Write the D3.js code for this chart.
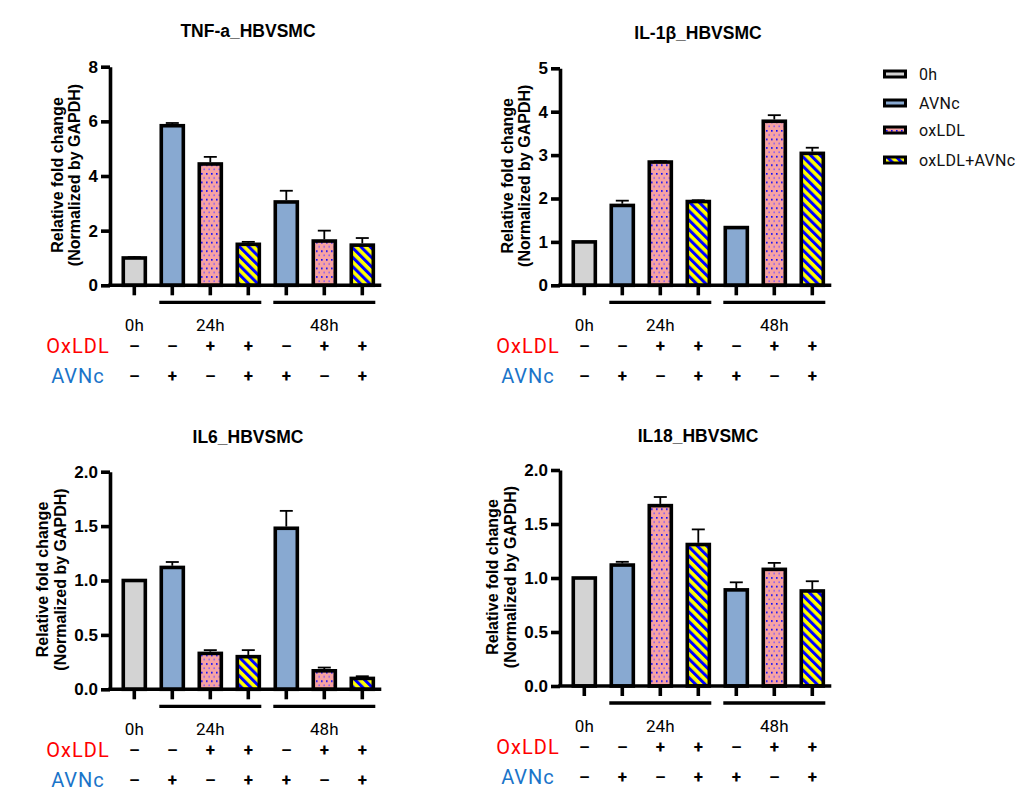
<!DOCTYPE html>
<html>
<head>
<meta charset="utf-8">
<script src="https://cdn.jsdelivr.net/npm/d3@7"></script>
<style>
  html, body { margin: 0; padding: 0; background: #fff; }
  svg { display: block; }
</style>
</head>
<body>
<svg id="chart" width="1027" height="805"></svg>
<script>
// ---------- DATA ----------
const groups = ["0h", "AVNc 24h", "oxLDL 24h", "oxLDL+AVNc 24h", "AVNc 48h", "oxLDL 48h", "oxLDL+AVNc 48h"];
const treatments = ["0h", "AVNc", "oxLDL", "oxLDL+AVNc", "AVNc", "oxLDL", "oxLDL+AVNc"];
const legendLabels = ["0h", "AVNc", "oxLDL", "oxLDL+AVNc"];
const oxldlSigns = ["–", "–", "+", "+", "–", "+", "+"];
const avncSigns  = ["–", "+", "–", "+", "+", "–", "+"];
const timeLabels = ["0h", "24h", "48h"];
const timeAt = [0, 2, 5];

const tnfMean  = [1.0, 5.84, 4.44, 1.50, 3.05, 1.62, 1.47];
const tnfSem   = [0.03, 0.10, 0.26, 0.09, 0.41, 0.38, 0.26];
const il1bMean = [1.0, 1.84, 2.84, 1.93, 1.33, 3.78, 3.04];
const il1bSem  = [0.0, 0.11, 0.02, 0.03, 0.0, 0.14, 0.13];
const il6Mean  = [1.0, 1.12, 0.33, 0.30, 1.48, 0.17, 0.10];
const il6Sem   = [0.0, 0.05, 0.03, 0.06, 0.16, 0.03, 0.02];
const il18Mean = [1.0, 1.12, 1.67, 1.31, 0.89, 1.08, 0.88];
const il18Sem  = [0.0, 0.03, 0.08, 0.14, 0.07, 0.06, 0.09];

const tnfTicks  = [0, 2, 4, 6, 8];
const il1bTicks = [0, 1, 2, 3, 4, 5];
const il6Ticks  = [0, 0.5, 1.0, 1.5, 2.0];
const il18Ticks = [0, 0.5, 1.0, 1.5, 2.0];

// ---------- LAYOUT ----------
const panels = [
  { title: "TNF-a_HBVSMC", mean: tnfMean, sem: tnfSem, ticks: tnfTicks, fmt: d3.format("d"),
    ax: 110, zero: 285.3, top: 66.7, titleY: 37, lab1: -53, lab2: -36 },
  { title: "IL-1β_HBVSMC", mean: il1bMean, sem: il1bSem, ticks: il1bTicks, fmt: d3.format("d"),
    ax: 560, zero: 285.3, top: 68.3, titleY: 39, lab1: -53, lab2: -36 },
  { title: "IL6_HBVSMC", mean: il6Mean, sem: il6Sem, ticks: il6Ticks, fmt: d3.format(".1f"),
    ax: 110, zero: 689.3, top: 471.7, titleY: 443, lab1: -68, lab2: -50 },
  { title: "IL18_HBVSMC", mean: il18Mean, sem: il18Sem, ticks: il18Ticks, fmt: d3.format(".1f"),
    ax: 560, zero: 686, top: 470, titleY: 442, lab1: -68, lab2: -50 }
];

const svg = d3.select("#chart");
const defs = svg.append("defs");

// dotted pink pattern
const dots = defs.append("pattern").attr("id", "dots")
  .attr("patternUnits", "userSpaceOnUse").attr("width", 5).attr("height", 8.6);
dots.append("rect").attr("width", 5).attr("height", 8.6).attr("fill", "#f7a3a3");
dots.append("rect").attr("x", 1).attr("y", 1).attr("width", 1.6).attr("height", 1.6).attr("fill", "#0000ff");
dots.append("rect").attr("x", 3.4).attr("y", 5.2).attr("width", 1.6).attr("height", 1.6).attr("fill", "#8a5ef0");

// striped pattern
const stripes = defs.append("pattern").attr("id", "stripes")
  .attr("patternUnits", "userSpaceOnUse").attr("width", 6.6).attr("height", 6.6)
  .attr("patternTransform", "rotate(-45)");
stripes.append("rect").attr("width", 6.6).attr("height", 6.6).attr("fill", "#ffff00");
stripes.append("rect").attr("width", 3).attr("height", 6.6).attr("fill", "#0000ff");

const fillScale = d3.scaleOrdinal()
  .domain(legendLabels)
  .range(["#d3d3d3", "#88a9d1", "url(#dots)", "url(#stripes)"]);

const bandStep = 38;

panels.forEach(p => {
  const g = svg.append("g");
  const x = d3.scaleBand().domain(groups)
    .range([p.ax + 5.3, p.ax + 5.3 + bandStep * groups.length])
    .paddingInner(0.42).paddingOuter(0.21);
  const y = d3.scaleLinear().domain([0, d3.max(p.ticks)]).range([p.zero, p.top]);
  const cx = d => x(d) + x.bandwidth() / 2;

  // title
  g.append("text")
    .attr("x", p.ax + 138).attr("y", p.titleY)
    .attr("text-anchor", "middle")
    .attr("font-family", "Liberation Sans, Arial, sans-serif")
    .attr("font-weight", "bold").attr("font-size", 17.5)
    .text(p.title);

  // bars
  g.selectAll("rect.bar").data(groups).join("rect")
    .attr("class", "bar")
    .attr("x", d => x(d))
    .attr("width", x.bandwidth())
    .attr("y", (d, i) => y(p.mean[i]))
    .attr("height", (d, i) => y(0) - y(p.mean[i]))
    .attr("fill", (d, i) => fillScale(treatments[i]))
    .attr("stroke", "#000").attr("stroke-width", 3.6);

  // error bars
  const eb = g.selectAll("g.err").data(groups).join("g").attr("class", "err");
  eb.filter((d, i) => p.sem[i] > 0).append("line")
    .attr("x1", d => cx(d)).attr("x2", d => cx(d))
    .attr("y1", (d) => { const i = groups.indexOf(d); return y(p.mean[i]) - 1.7; })
    .attr("y2", (d) => { const i = groups.indexOf(d); return y(p.mean[i] + p.sem[i]); })
    .attr("stroke", "#000").attr("stroke-width", 1.8);
  eb.filter((d, i) => p.sem[i] > 0).append("line")
    .attr("x1", d => cx(d) - 6.5).attr("x2", d => cx(d) + 6.5)
    .attr("y1", d => { const i = groups.indexOf(d); return y(p.mean[i] + p.sem[i]); })
    .attr("y2", d => { const i = groups.indexOf(d); return y(p.mean[i] + p.sem[i]); })
    .attr("stroke", "#000").attr("stroke-width", 1.8);

  // y axis
  const yAxis = g.append("g")
    .attr("transform", `translate(${p.ax},0)`)
    .call(d3.axisLeft(y).tickValues(p.ticks).tickFormat(p.fmt).tickSize(9).tickPadding(3).tickSizeOuter(0));
  yAxis.select(".domain").attr("stroke-width", 3.6).attr("stroke", "#000");
  yAxis.selectAll(".tick line").attr("stroke-width", 3.6).attr("stroke", "#000");
  yAxis.selectAll(".tick text")
    .attr("font-family", "Liberation Sans, Arial, sans-serif")
    .attr("font-weight", "bold").attr("font-size", 17).attr("fill", "#000");

  // x axis
  const xAxis = g.append("g")
    .attr("transform", `translate(0,${p.zero})`)
    .call(d3.axisBottom(x).tickSize(10).tickFormat("").tickSizeOuter(0));
  xAxis.select(".domain").remove();
  xAxis.selectAll(".tick line").attr("stroke-width", 3.6).attr("stroke", "#000");
  g.append("line")
    .attr("x1", p.ax - 1.8).attr("x2", x.range()[1])
    .attr("y1", p.zero).attr("y2", p.zero)
    .attr("stroke", "#000").attr("stroke-width", 3.6);

  // y label
  const ymid = (p.zero + p.top) / 2 - 1;
  [["Relative fold change", p.lab1], ["(Normalized by GAPDH)", p.lab2]].forEach(([t, off]) => {
    g.append("text")
      .attr("transform", `translate(${p.ax + off},${ymid}) rotate(-90)`)
      .attr("text-anchor", "middle").attr("dominant-baseline", "central")
      .attr("font-family", "Liberation Sans, Arial, sans-serif")
      .attr("font-weight", "bold").attr("font-size", 16)
      .text(t);
  });

  // group lines
  const grp = [[1, 3], [4, 6]];
  grp.forEach(([a, b]) => {
    g.append("line")
      .attr("x1", cx(groups[a]) - 13).attr("x2", cx(groups[b]) + 13)
      .attr("y1", p.zero + 17).attr("y2", p.zero + 17)
      .attr("stroke", "#000").attr("stroke-width", 3.3);
  });

  // time labels
  timeLabels.forEach((t, k) => {
    g.append("text")
      .attr("x", cx(groups[timeAt[k]])).attr("y", p.zero + 40)
      .attr("text-anchor", "middle").attr("dominant-baseline", "central")
      .attr("font-family", "Roboto, sans-serif").attr("font-size", 17)
      .attr("fill", "#000")
      .text(t);
  });

  // row labels
  g.append("text")
    .attr("x", p.ax - 32).attr("y", p.zero + 60.5)
    .attr("text-anchor", "middle").attr("dominant-baseline", "central")
    .attr("font-family", "Roboto, sans-serif").attr("font-size", 20)
    .attr("letter-spacing", 1)
    .attr("fill", "#ff0000").text("OxLDL");
  g.append("text")
    .attr("x", p.ax - 32).attr("y", p.zero + 91)
    .attr("text-anchor", "middle").attr("dominant-baseline", "central")
    .attr("font-family", "Roboto, sans-serif").attr("font-size", 20)
    .attr("letter-spacing", 1)
    .attr("fill", "#1a74c9").text("AVNc");

  // signs
  g.selectAll("text.ox").data(groups).join("text").attr("class", "ox")
    .attr("x", d => cx(d)).attr("y", p.zero + 60.5)
    .attr("text-anchor", "middle").attr("dominant-baseline", "central")
    .attr("font-family", "Roboto, sans-serif").attr("font-weight", "bold").attr("font-size", 17)
    .text((d, i) => oxldlSigns[i]);
  g.selectAll("text.av").data(groups).join("text").attr("class", "av")
    .attr("x", d => cx(d)).attr("y", p.zero + 91)
    .attr("text-anchor", "middle").attr("dominant-baseline", "central")
    .attr("font-family", "Roboto, sans-serif").attr("font-weight", "bold").attr("font-size", 17)
    .text((d, i) => avncSigns[i]);
});

// ---------- LEGEND ----------
const legY = [74, 103, 130, 160];
const leg = svg.append("g");
legendLabels.forEach((l, i) => {
  leg.append("rect")
    .attr("x", 884.5).attr("y", legY[i] - 3).attr("width", 21).attr("height", 6)
    .attr("fill", fillScale(l))
    .attr("stroke", "#000").attr("stroke-width", 3);
  leg.append("text")
    .attr("x", 919).attr("y", legY[i])
    .attr("dominant-baseline", "central")
    .attr("font-family", "Roboto, sans-serif").attr("font-size", 16)
    .attr("letter-spacing", 0.3)
    .attr("fill", "#111")
    .text(l);
});
</script>
</body>
</html>
